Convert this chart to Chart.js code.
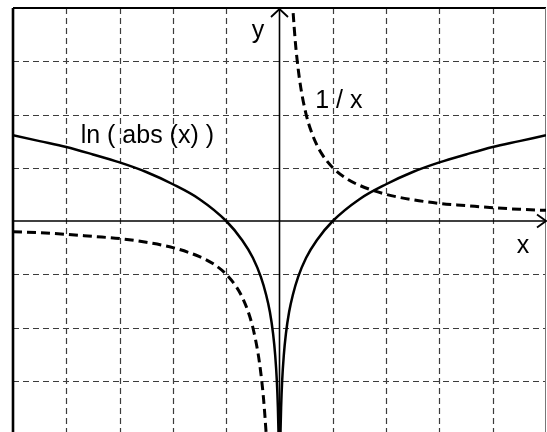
<!DOCTYPE html>
<html><head><meta charset="utf-8">
<style>html,body{margin:0;padding:0;overflow:hidden;background:#fff;width:547px;height:432px}canvas{display:block}</style>
<script src="https://cdn.jsdelivr.net/npm/chart.js@4.4.1/dist/chart.umd.min.js"></script>
</head><body>
<canvas id="c" width="547" height="440"></canvas>
<script>
const lnRightX = [0.015, 0.02, 0.03, 0.05, 0.08, 0.12, 0.18, 0.25, 0.35, 0.5, 0.7, 1, 1.5, 2, 2.5, 3, 3.5, 4, 4.5, 5];
const lnRightY = [-4.2, -3.91, -3.51, -3.0, -2.53, -2.12, -1.71, -1.39, -1.05, -0.69, -0.36, 0, 0.41, 0.69, 0.92, 1.1, 1.25, 1.39, 1.5, 1.61];
const lnLeftX = [-5, -4.5, -4, -3.5, -3, -2.5, -2, -1.5, -1, -0.7, -0.5, -0.35, -0.25, -0.18, -0.12, -0.08, -0.05, -0.03, -0.02, -0.015];
const lnLeftY = [1.61, 1.5, 1.39, 1.25, 1.1, 0.92, 0.69, 0.41, 0, -0.36, -0.69, -1.05, -1.39, -1.71, -2.12, -2.53, -3.0, -3.51, -3.91, -4.2];
const invRightX = [0.24, 0.25, 0.3, 0.35, 0.4, 0.5, 0.6, 0.7, 0.8, 1, 1.25, 1.5, 2, 2.5, 3, 3.5, 4, 4.5, 5];
const invRightY = [4.17, 4, 3.33, 2.86, 2.5, 2, 1.67, 1.43, 1.25, 1, 0.8, 0.67, 0.5, 0.4, 0.33, 0.29, 0.25, 0.22, 0.2];
const invLeftX = [-5, -4.5, -4, -3.5, -3, -2.5, -2, -1.5, -1.25, -1, -0.8, -0.7, -0.6, -0.5, -0.4, -0.35, -0.3, -0.25, -0.24];
const invLeftY = [-0.2, -0.22, -0.25, -0.29, -0.33, -0.4, -0.5, -0.67, -0.8, -1, -1.25, -1.43, -1.67, -2, -2.5, -2.86, -3.33, -4, -4.17];
const xGridTicks = [-4, -3, -2, -1, 1, 2, 3, 4];
const yGridTicks = [-3, -2, -1, 1, 2, 3];
const labels = [
  {text: 'ln ( abs (x) )', x: -3.73, y: 1.46},
  {text: '1 / x', x: 0.67, y: 2.12},
  {text: 'y', x: -0.52, y: 3.44},
  {text: 'x', x: 4.45, y: -0.6}
];
const pts = (xs, ys) => xs.map((x, i) => ({x, y: ys[i]}));

const deco = {
  id: 'deco',
  beforeDatasetsDraw(chart) {
    const {ctx, chartArea: a, scales: {x, y}} = chart;
    ctx.save();
    ctx.strokeStyle = '#3c3c3c';
    ctx.lineWidth = 1.2;
    ctx.setLineDash([6, 4]);
    xGridTicks.forEach(v => {
      const px = Math.round(x.getPixelForValue(v)) + 0.5;
      ctx.beginPath(); ctx.moveTo(px, a.top); ctx.lineTo(px, a.bottom); ctx.stroke();
    });
    yGridTicks.forEach(v => {
      const py = Math.round(y.getPixelForValue(v)) + 0.5;
      ctx.beginPath(); ctx.moveTo(a.left, py); ctx.lineTo(a.right, py); ctx.stroke();
    });
    ctx.setLineDash([]);
    ctx.strokeStyle = '#000';
    ctx.lineWidth = 2;
    ctx.beginPath(); ctx.moveTo(a.left, a.top); ctx.lineTo(a.right, a.top); ctx.stroke();
    ctx.lineWidth = 2.6;
    ctx.beginPath(); ctx.moveTo(a.left, a.top); ctx.lineTo(a.left, a.bottom); ctx.stroke();
    ctx.strokeStyle = '#777';
    ctx.lineWidth = 1;
    ctx.beginPath(); ctx.moveTo(a.right - 0.5, a.top); ctx.lineTo(a.right - 0.5, a.bottom); ctx.stroke();
    const x0 = x.getPixelForValue(0), y0 = y.getPixelForValue(0);
    ctx.strokeStyle = '#000';
    ctx.lineWidth = 1.6;
    ctx.beginPath(); ctx.moveTo(a.left, y0); ctx.lineTo(a.right, y0); ctx.stroke();
    ctx.beginPath(); ctx.moveTo(x0, a.bottom); ctx.lineTo(x0, a.top + 1); ctx.stroke();
    ctx.lineWidth = 1.8;
    ctx.beginPath(); ctx.moveTo(a.right - 9, y0 - 6.5); ctx.lineTo(a.right, y0); ctx.lineTo(a.right - 9, y0 + 6.5); ctx.stroke();
    ctx.beginPath(); ctx.moveTo(x0 - 8.5, a.top + 9); ctx.lineTo(x0, a.top + 1); ctx.lineTo(x0 + 8.5, a.top + 9); ctx.stroke();
    ctx.restore();
  },
  afterDatasetsDraw(chart) {
    const {ctx, scales: {x, y}} = chart;
    ctx.save();
    ctx.fillStyle = '#000';
    ctx.font = '25px "Liberation Sans", Arial, sans-serif';
    ctx.textBaseline = 'alphabetic';
    labels.forEach(l => ctx.fillText(l.text, x.getPixelForValue(l.x), y.getPixelForValue(l.y)));
    ctx.restore();
  }
};

new Chart(document.getElementById('c'), {
  type: 'scatter',
  data: {
    datasets: [
      {data: pts(lnLeftX, lnLeftY), borderColor: '#000', borderWidth: 2.5, showLine: true, pointRadius: 0, cubicInterpolationMode: 'monotone'},
      {data: pts(lnRightX, lnRightY), borderColor: '#000', borderWidth: 2.5, showLine: true, pointRadius: 0, cubicInterpolationMode: 'monotone'},
      {data: pts(invLeftX, invLeftY), borderColor: '#000', borderWidth: 3, borderDash: [9, 5], showLine: true, pointRadius: 0, cubicInterpolationMode: 'monotone'},
      {data: pts(invRightX, invRightY), borderColor: '#000', borderWidth: 3, borderDash: [9, 5], showLine: true, pointRadius: 0, cubicInterpolationMode: 'monotone'}
    ]
  },
  options: {
    responsive: false,
    animation: false,
    layout: {padding: {left: 13, right: 1, top: 8, bottom: 6}},
    plugins: {legend: {display: false}, tooltip: {enabled: false}},
    scales: {
      x: {type: 'linear', min: -5, max: 5, display: false},
      y: {type: 'linear', min: -4, max: 4, display: false}
    }
  },
  plugins: [deco]
});
</script>
</body></html>
